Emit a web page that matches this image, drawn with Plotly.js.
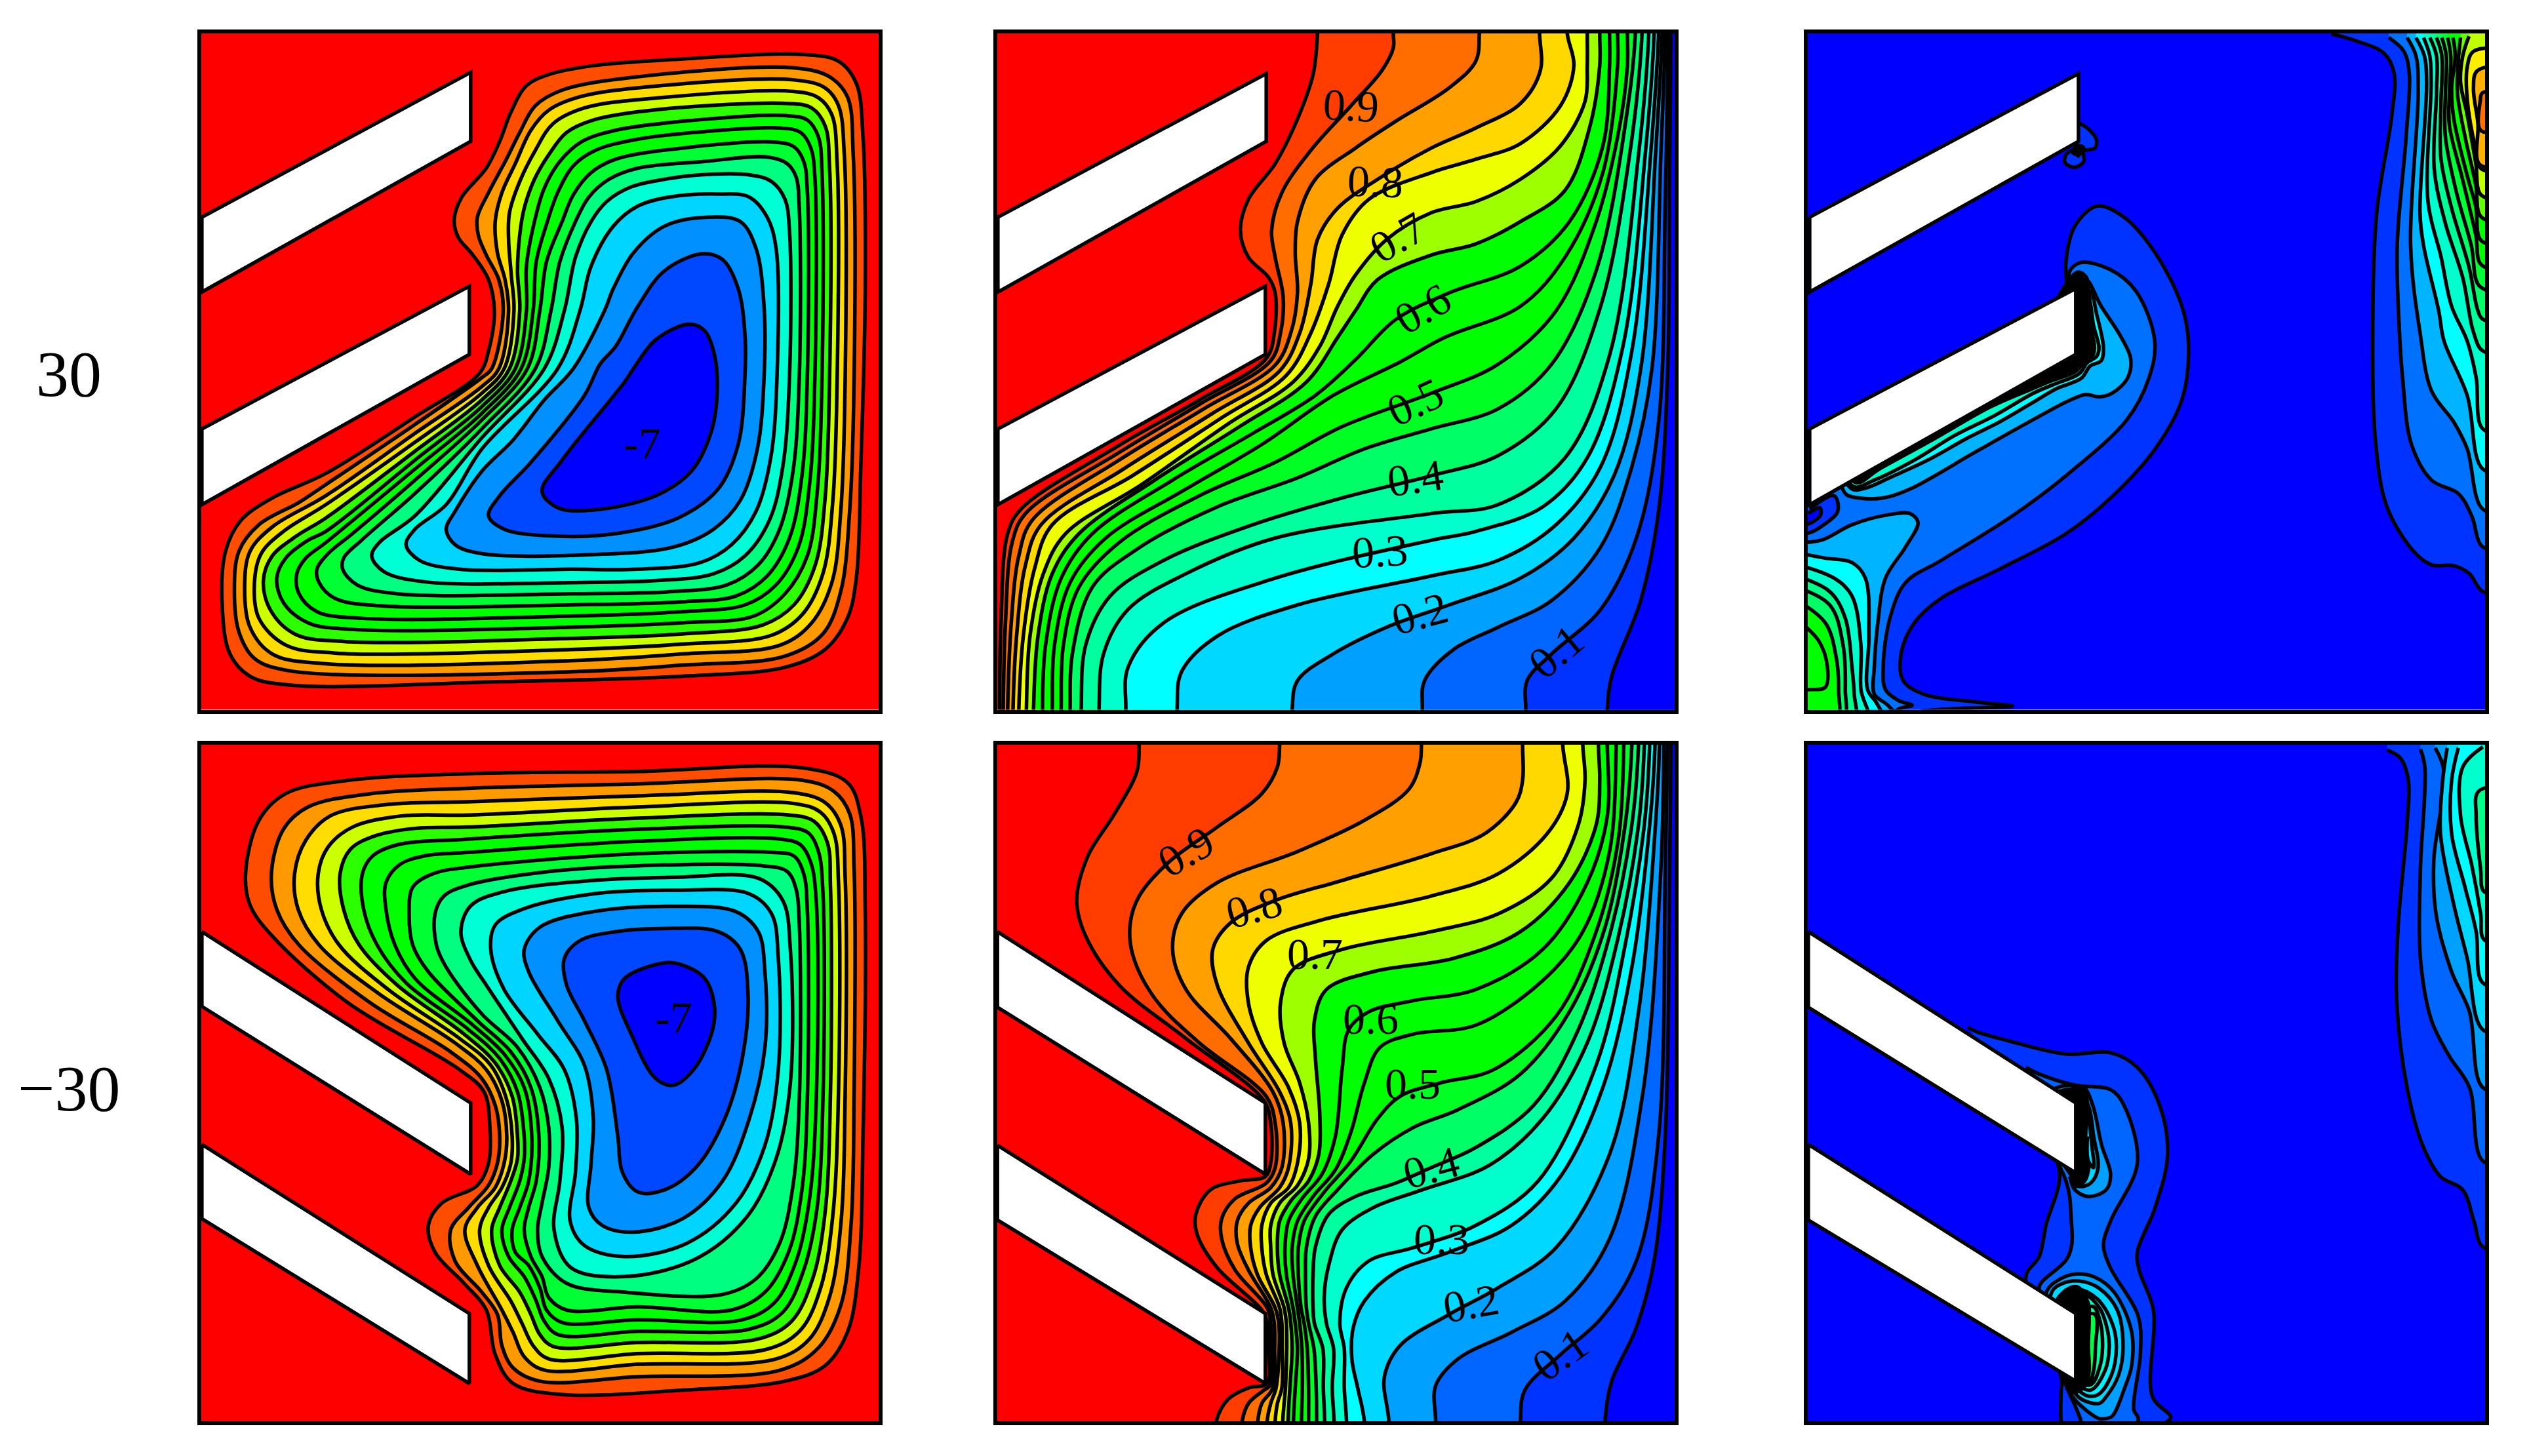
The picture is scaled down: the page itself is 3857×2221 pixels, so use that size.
<!DOCTYPE html>
<html>
<head>
<meta charset="utf-8">
<script src="https://cdn.plot.ly/plotly-3.0.1.min.js"></script>
<style>html,body{margin:0;padding:0;background:#fff}</style>
</head>
<body>
<div id="chart" style="width:3857px;height:2221px"></div>
<script>
// contour lines, one [x, y] list per level, outer level first
// units: pixels of a 1568 px crop of each panel, y pointing down

const streamColors = ['#ff4d00','#ff9900','#ffdd00','#ccff00','#2bff00','#00ff00','#00ff00','#00ff33','#00ff80','#00ffd5','#00d5ff','#0090ff','#0048ff','#0000ff'];
const ratioColors = ['#ff3d00','#ff6d00','#ffa000','#ffd800','#eeff00','#9dff00','#00ff00','#00ff00','#00ff00','#00ff22','#00ff66','#00ff9f','#00ffcc','#00ffff','#00d8ff','#00a0ff','#0066ff','#0033ff','#0000ff'];

const streamUp = [
[[1370,75],[1450,90],[1490,140],[1505,260],[1510,600],[1500,1000],[1490,1250],[1470,1340],[1420,1410],[1330,1450],[1100,1470],[700,1482],[220,1490],[130,1470],[85,1420],[68,1320],[75,1190],[110,1120],[180,1070],[300,1015],[500,888],[645,790],[665,740],[678,650],[665,580],[630,525],[597,485],[588,445],[605,395],[660,330],[690,270],[715,205],[750,145],[800,120],[900,100],[1100,85],[1370,75]],
[[1350,105],[1430,125],[1470,170],[1483,300],[1485,800],[1475,1100],[1455,1280],[1415,1375],[1330,1425],[1100,1445],[850,1460],[220,1458],[140,1430],[105,1370],[95,1280],[105,1190],[150,1130],[240,1080],[300,1040],[500,905],[650,800],[672,780],[698,650],[688,580],[660,525],[642,480],[640,440],[665,385],[705,310],[735,250],[770,190],[830,155],[1000,125],[1350,105]],
[[1350,132],[1420,150],[1450,190],[1463,300],[1465,800],[1455,1100],[1435,1260],[1390,1350],[1320,1400],[1100,1420],[850,1435],[300,1442],[180,1420],[130,1360],[118,1270],[130,1190],[180,1135],[300,1065],[500,925],[650,820],[688,780],[710,650],[702,580],[685,520],[680,450],[695,385],[725,320],[760,245],[800,200],[870,170],[1050,145],[1350,132]],
[[1350,158],[1405,172],[1435,210],[1447,320],[1447,800],[1437,1080],[1415,1240],[1370,1330],[1300,1378],[1100,1398],[850,1410],[320,1418],[210,1400],[150,1340],[140,1260],[155,1195],[205,1145],[300,1085],[500,945],[650,835],[700,780],[722,650],[716,570],[710,490],[712,430],[735,360],[770,290],[810,230],[880,195],[1050,172],[1350,158]],
[[1340,185],[1390,195],[1420,235],[1430,330],[1430,800],[1420,1070],[1398,1220],[1350,1310],[1280,1355],[1100,1375],[850,1385],[340,1392],[230,1375],[175,1320],[160,1255],[180,1200],[235,1155],[300,1115],[500,965],[650,850],[712,780],[735,650],[730,560],[735,480],[745,420],[768,355],[800,300],[840,250],[900,222],[1050,198],[1340,185]],
[[1330,212],[1380,222],[1405,260],[1413,340],[1413,800],[1402,1060],[1380,1200],[1330,1285],[1260,1335],[1100,1350],[850,1360],[360,1365],[260,1350],[205,1305],[190,1250],[210,1205],[260,1165],[300,1145],[500,985],[650,865],[725,780],[750,650],[750,550],[768,450],[790,375],[825,315],[875,270],[950,245],[1100,225],[1330,212]],
[[1320,240],[1365,250],[1388,285],[1397,350],[1397,800],[1385,1040],[1360,1180],[1310,1265],[1240,1310],[1100,1325],[850,1335],[380,1340],[280,1325],[240,1285],[235,1240],[255,1205],[300,1170],[500,1005],[650,880],[738,780],[765,650],[772,540],[797,450],[820,385],[855,325],[905,290],[1000,265],[1150,248],[1320,240]],
[[1310,272],[1350,282],[1372,315],[1380,380],[1380,800],[1368,1020],[1340,1160],[1290,1245],[1220,1290],[1100,1303],[850,1310],[420,1312],[320,1295],[285,1260],[280,1230],[305,1195],[360,1150],[500,1030],[650,895],[752,780],[780,650],[795,540],[830,450],[855,390],[895,340],[950,310],[1100,285],[1310,272]],
[[1290,305],[1335,320],[1355,350],[1362,420],[1362,800],[1348,1010],[1318,1140],[1270,1220],[1200,1265],[1080,1280],[850,1285],[460,1285],[370,1265],[338,1230],[340,1205],[380,1165],[500,1060],[650,915],[770,780],[805,650],[825,540],[860,450],[890,395],[935,355],[1000,330],[1150,315],[1290,305]],
[[1250,345],[1300,360],[1330,400],[1340,470],[1340,800],[1325,1000],[1295,1120],[1240,1200],[1170,1240],[1050,1255],[850,1260],[520,1258],[430,1235],[403,1200],[420,1170],[500,1110],[650,935],[790,780],[835,650],[860,530],[895,450],[930,405],[985,372],[1060,355],[1140,345],[1250,345]],
[[1180,388],[1250,395],[1290,440],[1310,510],[1312,800],[1298,980],[1265,1100],[1210,1175],[1140,1215],[1000,1230],[850,1230],[600,1230],[510,1210],[480,1175],[500,1140],[570,1085],[650,960],[820,780],[870,650],[895,550],[945,460],[1000,415],[1070,395],[1180,388]],
[[1160,440],[1230,450],[1265,510],[1283,640],[1283,800],[1268,960],[1230,1075],[1170,1140],[1080,1180],[900,1197],[650,1195],[590,1175],[570,1140],[590,1100],[650,1010],[720,940],[790,850],[855,780],[925,650],[945,600],[990,520],[1060,460],[1160,440]],
[[1145,522],[1190,535],[1225,600],[1240,700],[1240,800],[1225,950],[1180,1050],[1090,1115],[950,1150],[800,1155],[700,1140],[665,1110],[690,1065],[760,990],[880,840],[915,770],[950,730],[1000,640],[1060,560],[1145,522]],
[[1115,680],[1150,695],[1172,750],[1178,830],[1165,920],[1120,1010],[1040,1065],[900,1097],[820,1092],[785,1055],[830,985],[970,810],[990,780],[1040,715],[1115,680]]
];

const streamDown = [
[[1370,72],[1470,105],[1500,180],[1510,400],[1505,900],[1495,1200],[1470,1340],[1420,1415],[1330,1450],[1100,1470],[830,1480],[720,1455],[680,1390],[660,1290],[610,1230],[545,1160],[530,1100],[560,1050],[640,1010],[665,960],[668,880],[655,800],[600,750],[350,600],[180,450],[130,380],[120,310],[150,190],[210,130],[350,100],[620,85],[1000,80],[1370,72]],
[[1370,100],[1440,125],[1475,175],[1485,300],[1485,800],[1478,1100],[1455,1280],[1405,1375],[1320,1425],[1000,1440],[780,1450],[720,1420],[695,1370],[685,1300],[650,1250],[590,1180],[580,1110],[620,1060],[665,1010],[685,960],[690,900],[680,830],[650,770],[580,710],[400,600],[240,470],[190,390],[178,310],[205,210],[260,160],[400,130],[620,118],[1000,108],[1370,100]],
[[1350,128],[1420,150],[1455,200],[1465,320],[1465,800],[1455,1100],[1430,1260],[1385,1355],[1310,1400],[1000,1412],[790,1425],[745,1395],[720,1340],[695,1290],[640,1190],[612,1110],[640,1060],[680,1015],[700,960],[706,900],[695,820],[660,750],[590,690],[420,580],[285,470],[238,390],[230,310],[255,235],[310,180],[430,155],[620,148],[1000,135],[1350,128]],
[[1350,152],[1410,172],[1440,220],[1450,330],[1450,800],[1437,1080],[1410,1240],[1365,1335],[1290,1378],[1000,1388],[800,1400],[765,1370],[740,1320],[715,1270],[665,1190],[645,1110],[665,1060],[695,1015],[715,960],[718,900],[705,815],[670,740],[600,680],[440,570],[330,470],[290,390],[283,310],[305,250],[360,205],[470,180],[620,178],[1000,160],[1350,152]],
[[1340,178],[1395,192],[1425,240],[1432,340],[1432,800],[1420,1070],[1392,1220],[1345,1315],[1270,1355],[1000,1363],[810,1372],[780,1345],[760,1300],[735,1250],[690,1190],[672,1110],[690,1060],[715,1000],[730,950],[730,900],[718,810],[680,735],[610,670],[460,560],[375,470],[340,390],[332,310],[355,255],[410,225],[500,208],[620,205],[1000,185],[1340,178]],
[[1330,205],[1382,218],[1405,260],[1415,350],[1415,820],[1402,1060],[1372,1200],[1325,1295],[1250,1333],[1000,1338],[820,1345],[790,1315],[770,1265],[745,1215],[710,1170],[695,1110],[712,1060],[735,1000],[745,950],[745,900],[730,800],[690,725],[620,660],[480,555],[415,470],[385,390],[382,310],[405,270],[460,245],[620,232],[1000,210],[1330,205]],
[[1320,232],[1365,245],[1388,285],[1400,370],[1400,820],[1385,1040],[1355,1180],[1305,1275],[1230,1313],[1000,1312],[830,1318],[795,1290],[780,1240],[755,1190],[725,1160],[718,1110],[735,1060],[755,1000],[762,900],[745,790],[700,715],[630,650],[500,545],[455,470],[435,390],[435,330],[465,290],[520,270],[620,262],[1000,237],[1320,232]],
[[1300,262],[1350,270],[1372,310],[1380,390],[1380,820],[1368,1020],[1338,1160],[1285,1250],[1210,1290],[1000,1283],[840,1290],[800,1262],[785,1215],[760,1170],[745,1110],[755,1060],[772,1000],[778,900],[760,790],[715,710],[640,640],[530,530],[495,470],[487,400],[495,340],[540,310],[620,295],[1000,265],[1300,262]],
[[1280,292],[1335,305],[1355,345],[1362,420],[1362,820],[1348,1010],[1318,1140],[1265,1220],[1190,1255],[970,1250],[840,1230],[785,1170],[775,1110],[785,1050],[800,970],[800,880],[780,790],[730,700],[650,625],[570,520],[548,470],[545,400],[565,360],[620,335],[800,305],[1000,292],[1280,292]],
[[1270,320],[1325,370],[1342,480],[1342,780],[1310,950],[1245,1080],[1130,1175],[970,1215],[850,1195],[812,1110],[825,1000],[830,880],[800,770],[740,680],[660,560],[625,505],[603,440],[625,382],[700,350],[900,325],[1080,318],[1270,320]],
[[1250,355],[1300,400],[1315,500],[1315,750],[1285,920],[1220,1050],[1110,1140],[970,1170],[880,1145],[848,1090],[860,980],[862,860],[835,750],[775,670],[700,570],[670,480],[680,425],[740,390],[900,355],[1080,347],[1250,355]],
[[1220,395],[1270,440],[1285,530],[1285,700],[1250,860],[1190,1000],[1100,1085],[990,1115],[920,1100],[890,1060],[895,960],[900,860],[880,740],[820,640],[755,530],[745,480],[780,430],[900,395],[1080,383],[1220,395]],
[[1180,440],[1230,480],[1247,580],[1235,720],[1195,860],[1130,970],[1060,1020],[1000,1025],[965,980],[955,900],[930,750],[880,640],[840,560],[835,500],[870,460],[950,440],[1050,433],[1180,440]],
[[1100,515],[1150,545],[1172,610],[1165,670],[1125,750],[1080,785],[1040,770],[985,670],[955,585],[970,545],[1060,510],[1100,515]]
];

// bottom to top, 0.95 first
const ratioUp = [
[[32,1545],[35,1350],[50,1150],[80,1095],[300,952],[480,850],[630,757],[648,700],[650,610],[635,575],[590,530],[572,470],[590,400],[650,320],[700,220],[735,120],[745,27]],
[[40,1545],[45,1350],[60,1170],[90,1105],[300,968],[480,860],[640,762],[662,700],[668,620],[650,530],[642,470],[665,385],[730,290],[820,190],[890,110],[915,60],[915,27]],
[[50,1545],[58,1350],[75,1200],[105,1120],[300,985],[490,870],[650,772],[685,700],[700,610],[695,520],[700,450],[740,355],[830,285],[920,225],[1040,150],[1100,90],[1108,27]],
[[62,1545],[70,1380],[90,1220],[125,1130],[310,1005],[510,880],[660,785],[705,700],[730,590],[745,490],[790,420],[880,355],[1000,285],[1100,240],[1200,185],[1245,110],[1243,27]],
[[75,1545],[85,1380],[110,1230],[150,1130],[330,1020],[530,890],[675,795],[730,700],[770,590],[800,480],[860,400],[1000,340],[1100,310],[1200,275],[1290,190],[1320,100],[1305,27]],
[[92,1545],[100,1380],[130,1240],[180,1150],[350,1040],[550,900],[690,810],[750,730],[790,640],[830,570],[900,490],[1000,430],[1100,405],[1200,355],[1290,280],[1345,180],[1350,100],[1350,27]],
[[108,1545],[118,1380],[150,1240],[210,1150],[380,1030],[570,910],[720,810],[790,710],[830,650],[880,580],[1000,525],[1100,500],[1200,450],[1300,380],[1355,240],[1378,100],[1378,27]],
[[128,1545],[135,1400],[170,1250],[240,1150],[420,1030],[600,925],[740,840],[830,760],[920,670],[1040,610],[1200,550],[1310,450],[1385,280],[1400,100],[1400,27]],
[[150,1545],[155,1400],[190,1260],[270,1160],[450,1050],[620,950],[780,840],[930,765],[1030,710],[1200,640],[1300,530],[1385,340],[1418,100],[1418,27]],
[[170,1545],[175,1400],[210,1270],[300,1170],[480,1065],[650,990],[800,910],[1000,835],[1150,770],[1280,650],[1370,450],[1420,250],[1440,100],[1440,27]],
[[190,1545],[195,1420],[240,1270],[340,1185],[520,1090],[700,1025],[850,960],[1000,915],[1150,870],[1270,770],[1370,560],[1440,200],[1458,27]],
[[215,1545],[225,1400],[280,1290],[400,1210],[600,1130],[800,1070],[1000,1020],[1150,975],[1280,870],[1380,640],[1445,300],[1473,27]],
[[255,1545],[265,1420],[320,1320],[450,1240],[650,1160],[1000,1105],[1150,1085],[1300,980],[1400,750],[1465,300],[1488,27]],
[[315,1545],[320,1450],[400,1350],[650,1250],[1000,1165],[1100,1145],[1250,1090],[1350,980],[1430,730],[1480,300],[1500,27]],
[[430,1545],[440,1460],[520,1380],[700,1310],[1000,1245],[1150,1210],[1280,1130],[1380,1000],[1450,740],[1492,300],[1510,27]],
[[688,1545],[700,1480],[780,1420],[900,1360],[1040,1310],[1200,1250],[1320,1160],[1410,1020],[1470,780],[1503,300],[1518,27]],
[[980,1545],[985,1480],[1050,1410],[1150,1360],[1270,1300],[1380,1180],[1450,1000],[1495,780],[1515,300],[1525,27]],
[[1212,1545],[1215,1480],[1270,1420],[1380,1320],[1460,1160],[1510,900],[1525,400],[1532,27]],
[[1395,1545],[1405,1470],[1470,1300],[1510,1100],[1530,800],[1535,300],[1538,27]]
];

const ratioDown = [
[[518,1540],[545,1490],[590,1465],[632,1455],[635,1377],[633,1320],[620,1290],[520,1195],[475,1120],[472,1075],[505,1020],[570,1000],[628,990],[640,960],[640,870],[625,820],[450,680],[300,560],[225,450],[205,370],[230,270],[290,175],[340,80],[345,20]],
[[576,1540],[590,1500],[625,1470],[640,1458],[642,1377],[640,1320],[632,1285],[560,1200],[530,1130],[530,1085],[560,1040],[630,1005],[650,970],[650,870],[630,810],[480,690],[380,590],[330,490],[325,420],[345,360],[410,285],[520,205],[620,130],[655,70],[660,20]],
[[611,1540],[620,1500],[645,1465],[649,1377],[648,1320],[640,1285],[590,1200],[565,1140],[565,1090],[590,1050],[640,1015],[665,970],[668,870],[645,800],[550,680],[450,570],[420,480],[440,400],[520,330],[700,260],[850,190],[950,120],[975,60],[978,20]],
[[632,1540],[640,1500],[652,1465],[659,1377],[658,1320],[650,1285],[610,1210],[595,1150],[595,1100],[615,1060],[660,1015],[680,970],[685,870],[660,800],[590,690],[520,560],[510,480],[550,420],[650,370],[800,325],[1000,265],[1120,220],[1190,150],[1205,100],[1205,20]],
[[650,1540],[655,1500],[665,1465],[666,1377],[665,1320],[660,1285],[630,1210],[620,1150],[620,1100],[640,1050],[680,1015],[700,960],[705,870],[680,790],[620,690],[590,600],[590,520],[630,460],[750,415],[1000,360],[1150,310],[1260,220],[1305,130],[1295,20]],
[[667,1540],[670,1500],[673,1465],[676,1377],[675,1320],[670,1285],[645,1210],[640,1150],[640,1100],[660,1050],[700,1010],[725,950],[725,870],[705,780],[670,690],[662,600],[690,525],[800,480],[1000,440],[1150,400],[1270,320],[1330,200],[1345,100],[1340,20]],
[[679,1540],[683,1465],[688,1377],[685,1320],[680,1285],[660,1210],[655,1150],[660,1090],[685,1045],[725,1000],[748,940],[750,850],[740,720],[738,640],[765,570],[870,530],[1050,500],[1200,440],[1310,330],[1370,200],[1378,100],[1375,20]],
[[691,1540],[695,1465],[700,1377],[695,1320],[690,1285],[675,1210],[672,1150],[680,1090],[710,1040],[755,985],[785,900],[800,750],[815,660],[860,620],[960,595],[1100,570],[1250,480],[1350,330],[1395,180],[1395,20]],
[[709,1540],[711,1465],[710,1377],[705,1320],[700,1285],[690,1210],[688,1150],[700,1090],[735,1035],[785,975],[820,890],[850,780],[885,700],[960,670],[1100,650],[1250,550],[1340,440],[1400,260],[1415,20]],
[[725,1540],[725,1465],[722,1377],[715,1320],[708,1285],[702,1210],[702,1150],[715,1090],[760,1025],[820,955],[880,860],[930,810],[1020,780],[1140,750],[1280,630],[1370,440],[1420,230],[1432,20]],
[[743,1540],[742,1465],[737,1377],[725,1320],[720,1285],[718,1210],[720,1150],[740,1080],[790,1020],[870,940],[960,880],[1060,840],[1200,760],[1310,620],[1390,430],[1435,200],[1450,20]],
[[761,1540],[758,1465],[757,1377],[738,1320],[735,1285],[735,1210],[740,1150],[770,1075],[830,1035],[920,1005],[1000,970],[1100,925],[1230,830],[1330,660],[1405,430],[1450,200],[1465,20]],
[[782,1540],[778,1465],[781,1377],[765,1320],[760,1260],[770,1190],[800,1110],[870,1060],[980,1020],[1130,965],[1250,860],[1350,690],[1420,450],[1465,200],[1478,20]],
[[810,1540],[805,1465],[805,1377],[795,1320],[810,1240],[860,1180],[960,1150],[1100,1100],[1240,1000],[1370,740],[1435,470],[1478,200],[1490,20]],
[[850,1540],[835,1465],[822,1400],[825,1330],[850,1270],[920,1205],[1040,1160],[1180,1100],[1290,990],[1385,790],[1450,520],[1490,200],[1502,20]],
[[905,1540],[895,1440],[930,1370],[1040,1300],[1150,1240],[1280,1150],[1400,940],[1465,620],[1503,200],[1512,20]],
[[1010,1540],[1010,1460],[1060,1400],[1180,1340],[1300,1270],[1400,1130],[1475,800],[1515,300],[1522,20]],
[[1200,1540],[1210,1470],[1290,1390],[1380,1310],[1460,1180],[1510,900],[1525,300],[1530,20]],
[[1390,1540],[1405,1450],[1460,1330],[1500,1180],[1525,900],[1535,300],[1538,20]]
];

// right-hand panels: [colour, points]
const stressUp = [
['#0033ff',[[602,640],[602,595],[600,540],[620,460],[670,415],[730,440],[800,520],[860,640],[875,730],[860,850],[800,960],[700,1070],[600,1150],[450,1230],[320,1295],[260,1350],[230,1420],[235,1480],[280,1510],[400,1528],[480,1537],[300,1546],[150,1570],[-30,1600],[-30,1000],[300,850],[500,730]]],
['#0070ff',[[608,620],[608,586],[608,562],[632,542],[698,557],[757,606],[799,718],[786,801],[737,894],[600,1020],[480,1110],[320,1210],[240,1260],[205,1340],[190,1450],[195,1500],[225,1525],[255,1535],[225,1543],[190,1570],[-30,1600],[-30,1000],[300,850],[500,740]]],
['#00b4ff',[[622,640],[645,581],[679,640],[723,708],[745,757],[738,801],[703,835],[674,843],[645,838],[610,850],[527,894],[400,965],[250,1050],[190,1070],[135,1070],[105,1060],[100,1000],[500,770]]],
['#00ffff',[[622,660],[654,606],[669,659],[684,733],[679,762],[654,774],[635,801],[576,826],[527,855],[450,900],[380,935],[290,985],[210,1022],[150,1048],[120,1050],[100,1000],[500,770]]],
['#00ffcc',[[622,670],[650,625],[662,684],[674,733],[669,752],[647,767],[630,791],[571,816],[527,835],[440,885],[350,930],[260,985],[170,1030],[125,1045],[100,1000],[500,770]]],
['#000000',[[500,770],[611,576],[628,563],[645,574],[652,606],[656,684],[664,733],[660,750],[640,765],[622,786],[565,808],[522,826],[430,866],[300,940],[180,1006],[130,1036],[100,1000]]],
['#00ffcc',[[642,640],[648,685],[656,720],[652,700],[644,670]]],
['#0033ff',[[25,1095],[80,1065],[88,1100],[50,1135],[25,1148],[-20,1148],[-20,1095]]],
['#0000ff',[[22,1105],[48,1092],[50,1108],[35,1122],[22,1128],[-20,1128]]],
['#00b4ff',[[-20,1170],[50,1165],[120,1130],[200,1108],[250,1105],[268,1125],[240,1180],[195,1250],[178,1350],[170,1450],[170,1510],[200,1535],[225,1570],[-20,1570]]],
['#00ffff',[[-20,1190],[60,1205],[120,1215],[150,1250],[158,1380],[155,1500],[175,1530],[190,1570],[-20,1570]]],
['#00ffcc',[[-20,1215],[80,1250],[120,1290],[140,1400],[140,1500],[155,1570],[-20,1570]]],
['#00ff88',[[-20,1240],[70,1280],[105,1340],[120,1450],[125,1510],[125,1570],[-20,1570]]],
['#00ff66',[[-20,1265],[70,1310],[100,1400],[105,1500],[100,1570],[-20,1570]]],
['#00ff00',[[-20,1290],[60,1350],[85,1430],[90,1500],[85,1570],[-20,1570]]],
['#00ff00',[[-20,1330],[45,1390],[65,1450],[60,1495],[25,1500],[-20,1500]]],
['#0033ff',[[1195,29],[1250,44],[1314,73],[1336,117],[1331,210],[1297,430],[1288,698],[1295,950],[1320,1090],[1380,1190],[1420,1220],[1470,1222],[1505,1240],[1535,1280],[1600,1280],[1600,-40],[1195,-40]]],
['#0070ff',[[1324,37],[1358,68],[1370,117],[1363,259],[1343,503],[1348,698],[1355,800],[1375,950],[1420,1030],[1480,1060],[1510,1110],[1535,1180],[1600,1180],[1600,-40],[1324,-40]]],
['#00b4ff',[[1365,37],[1385,78],[1390,161],[1373,503],[1394,698],[1420,830],[1470,900],[1500,960],[1535,1095],[1600,1095],[1600,-40],[1365,-40]]],
['#00ffff',[[1385,37],[1404,78],[1409,137],[1394,430],[1402,503],[1436,650],[1448,718],[1500,840],[1535,1005],[1600,1005],[1600,-40],[1385,-40]]],
['#00ffcc',[[1402,37],[1416,78],[1419,137],[1412,405],[1441,528],[1465,640],[1500,718],[1520,800],[1535,915],[1600,915],[1600,-40],[1402,-40]]],
['#00ff99',[[1416,37],[1431,78],[1431,161],[1426,332],[1451,454],[1490,576],[1514,698],[1535,740],[1600,740],[1600,-40],[1416,-40]]],
['#00ff66',[[1431,37],[1443,78],[1441,186],[1441,308],[1465,420],[1504,552],[1524,650],[1535,669],[1600,669],[1600,-40],[1431,-40]]],
['#00ff33',[[1443,37],[1453,78],[1451,161],[1451,259],[1475,381],[1509,503],[1529,596],[1600,596],[1600,-40],[1443,-40]]],
['#00ff00',[[1456,37],[1463,78],[1460,161],[1460,234],[1490,357],[1519,479],[1532,547],[1600,547],[1600,-40],[1456,-40]]],
['#00ff00',[[1468,37],[1473,78],[1465,151],[1470,220],[1500,347],[1519,415],[1532,493],[1600,493],[1600,-40],[1468,-40]]],
['#66ff00',[[1485,37],[1480,88],[1478,161],[1495,259],[1519,366],[1532,440],[1600,440],[1600,-40],[1485,-40]]],
['#bfff00',[[1504,34],[1490,78],[1485,137],[1500,210],[1519,317],[1532,391],[1600,391],[1600,-40],[1504,-40]]],
['#ffee00',[[1600,61],[1514,68],[1500,103],[1500,176],[1519,288],[1532,332],[1600,332]]],
['#ffb000',[[1600,98],[1522,112],[1514,151],[1524,230],[1528,322],[1600,322]]],
['#ff7000',[[1600,161],[1534,161],[1529,180],[1530,245],[1600,245]]],
['#0033ff',[[628,228],[650,242],[668,265],[665,285],[640,292],[640,315],[620,328],[598,318],[600,300],[620,285],[625,270]]],
['#000000',[[615,300],[630,280],[640,285],[625,305]]]
];

const stressDown = [
['#0033ff',[[380,655],[400,665],[470,685],[600,715],[700,712],[760,745],[810,830],[828,940],[800,1060],[760,1160],[764,1200],[796,1290],[794,1485],[835,1531],[821,1545],[720,1580],[601,1570],[589,1475],[591,1451],[560,1350],[510,1215],[540,1170],[555,1100],[585,975],[500,830]]],
['#0066ff',[[510,745],[540,760],[620,785],[700,795],[730,830],[760,960],[700,1090],[684,1143],[698,1192],[762,1304],[767,1387],[752,1514],[762,1534],[740,1580],[640,1570],[632,1534],[601,1461],[560,1350],[540,1238],[547,1226],[601,1177],[613,1143],[612,1090],[600,1000],[500,830]]],
['#00a0ff',[[560,1350],[557,1248],[586,1221],[625,1209],[664,1216],[708,1250],[747,1338],[747,1416],[733,1461],[703,1529],[686,1534],[674,1534],[615,1485],[600,1440]]],
['#00d8ff',[[560,1350],[569,1248],[591,1231],[630,1225],[674,1241],[715,1290],[728,1373],[718,1436],[690,1485],[674,1500],[630,1487],[600,1440]]],
['#00f0ff',[[560,1350],[586,1258],[625,1243],[670,1265],[705,1324],[713,1373],[702,1436],[672,1480],[645,1482],[600,1440]]],
['#00ffcc',[[560,1350],[637,1255],[675,1285],[693,1335],[697,1373],[688,1425],[655,1470],[600,1440]]],
['#00ff99',[[560,1350],[660,1282],[675,1310],[682,1373],[675,1420],[655,1458],[600,1440]]],
['#00ff44',[[560,1350],[664,1299],[666,1373],[662,1425],[652,1452],[600,1440]]],
['#000000',[[560,1350],[592,1252],[625,1238],[650,1275],[652,1310],[650,1373],[652,1425],[645,1458],[620,1475],[600,1465]]],
['#00a0ff',[[500,830],[580,790],[610,785],[640,790],[660,830],[680,920],[700,985],[690,1020],[650,1035],[620,1020],[610,995]]],
['#00d8ff',[[500,830],[625,795],[650,830],[662,900],[672,970],[655,1005],[628,1012],[610,990]]],
['#000000',[[500,830],[602,800],[625,788],[645,810],[645,900],[652,960],[642,1000],[622,1012],[608,990]]],
['#00d8ff',[[650,850],[658,920],[662,970],[650,955],[648,900]]],
['#0033ff',[[1320,32],[1350,50],[1368,100],[1365,200],[1345,430],[1342,600],[1365,790],[1400,920],[1440,990],[1490,1020],[1515,1090],[1535,1148],[1600,1148],[1600,-40],[1320,-40]]],
['#0066ff',[[1395,30],[1405,70],[1395,300],[1395,500],[1420,640],[1460,720],[1505,790],[1535,955],[1600,955],[1600,-40],[1395,-40]]],
['#00a0ff',[[1428,27],[1448,80],[1425,280],[1430,400],[1465,530],[1505,620],[1535,790],[1600,790],[1600,-40],[1428,-40]]],
['#00d8ff',[[1455,27],[1445,100],[1440,220],[1470,380],[1500,500],[1535,660],[1600,660],[1600,-40],[1455,-40]]],
['#00ffff',[[1480,27],[1465,100],[1465,220],[1495,340],[1520,440],[1535,555],[1600,555],[1600,-40],[1480,-40]]],
['#00ffcc',[[1535,25],[1490,70],[1485,180],[1510,290],[1530,400],[1538,458],[1600,458],[1600,-40],[1535,-40]]],
['#00ff88',[[1600,110],[1525,125],[1520,180],[1530,300],[1538,350],[1600,350]]]
];

const slatsUp1 = [[[22,440],[625,115],[625,270],[22,608]],[[22,915],[622,595],[622,748],[22,1085]]];
const slatsUp2 = [[[28,440],[630,118],[630,270],[28,608]],[[28,915],[628,595],[628,748],[28,1085]]];
const slatsUp3 = [[[25,440],[628,118],[628,270],[25,608]],[[25,915],[622,600],[622,748],[25,1085]]];
const slatsDown1 = [[[22,440],[625,825],[625,985],[22,608]],[[22,918],[622,1298],[622,1455],[22,1085]]];
const slatsDown2 = [[[27,440],[628,825],[628,985],[27,610]],[[27,920],[628,1298],[628,1455],[27,1088]]];
const slatsDown3 = [[[22,440],[622,825],[622,982],[22,610]],[[22,918],[622,1298],[622,1450],[22,1088]]];

const levelTexts = ['0.9','0.8','0.7','0.6','0.5','0.4','0.3','0.2','0.1'];
const levelXUp = [820,875,925,980,965,965,885,975,1280];
const levelYUp = [190,360,485,645,855,1025,1190,1330,1415];
const levelAngleUp = [3,2,-30,-30,-25,-8,-3,-15,-40];
const levelXDown = [450,603,740,865,958,1000,1023,1090,1290];
const levelYDown = [260,385,490,635,782,970,1130,1275,1390];
const levelAngleDown = [-30,-15,0,0,0,-15,0,-10,-35];
const rowLabels = ['30','\u221230'];
const rowLabelY = [571,1660];

// plot areas in page pixels, inner edge of the frames
const colLeft = [306.5,1520.5,2756.5], colRight = [1340,2554,3790];
const rowTop = [50.5,1136], rowBottom = [1082.5,2168];
// crop coordinates of the frames
const frameX = [[20,1540],[26,1546],[20,1540]];
const frameY = [[27,1545],[20,1540]];
const W = 3857, H = 2221;

const traces = [];
const layout = {
  width: W, height: H, margin: {l: 0, r: 0, t: 0, b: 0}, showlegend: false,
  paper_bgcolor: '#fff', plot_bgcolor: '#fff', annotations: [], font: {family: 'Liberation Serif, serif', color: '#000'}
};

function axisName(r, c) { const n = r * 3 + c + 1; return n === 1 ? '' : String(n); }

function poly(r, c, pts, fill, shape) {
  const a = axisName(r, c);
  traces.push({
    x: pts.map(p => p[0]), y: pts.map(p => p[1]), xaxis: 'x' + a, yaxis: 'y' + a,
    mode: 'lines', fill: 'toself', fillcolor: fill, hoverinfo: 'skip',
    line: {color: '#000', width: 5.5, shape: shape || 'spline', smoothing: 1, simplify: false}
  });
}

for (let r = 0; r < 2; r++) for (let c = 0; c < 3; c++) {
  const a = axisName(r, c);
  const ax = {
    showline: true, mirror: true, linewidth: 6, linecolor: '#000', ticks: '', showticklabels: false,
    showgrid: false, zeroline: false, fixedrange: true
  };
  layout['xaxis' + a] = Object.assign({}, ax, {range: frameX[c], domain: [colLeft[c] / W, colRight[c] / W], anchor: 'y' + a});
  layout['yaxis' + a] = Object.assign({}, ax, {range: [frameY[r][1], frameY[r][0]], domain: [1 - rowBottom[r] / H, 1 - rowTop[r] / H], anchor: 'x' + a});
}

const box = [[-60, -60], [1620, -60], [1620, 1620], [-60, 1620]];
// background of every panel
[[0,0,'#ff0000'],[0,1,'#ff0000'],[0,2,'#0000ff'],[1,0,'#ff0000'],[1,1,'#ff0000'],[1,2,'#0000ff']].forEach(b => {
  const a = axisName(b[0], b[1]);
  traces.push({x: box.map(p => p[0]), y: box.map(p => p[1]), xaxis: 'x' + a, yaxis: 'y' + a, mode: 'lines', fill: 'toself', fillcolor: b[2], line: {width: 0}, hoverinfo: 'skip'});
});

streamUp.forEach((pts, i) => poly(0, 0, pts, streamColors[i]));
streamDown.forEach((pts, i) => poly(1, 0, pts, streamColors[i]));

function ratioPoly(r, pts, i) {
  const x0 = pts[0][0], xt = pts[pts.length - 1][0];
  const closed = [[x0, 1680]].concat(pts, [[xt, -80], [1700, -80], [1700, 1680]]);
  poly(r, 1, closed, ratioColors[i]);
}
ratioUp.forEach((pts, i) => ratioPoly(0, pts, i));
ratioDown.forEach((pts, i) => ratioPoly(1, pts, i));

stressUp.forEach(s => poly(0, 2, s[1], s[0]));
stressDown.forEach(s => poly(1, 2, s[1], s[0]));

[slatsUp1, slatsUp2, slatsUp3].forEach((sl, c) => sl.forEach(p => poly(0, c, p.concat([p[0]]), '#ffffff', 'linear')));
[slatsDown1, slatsDown2, slatsDown3].forEach((sl, c) => sl.forEach(p => poly(1, c, p.concat([p[0]]), '#ffffff', 'linear')));

function addLabel(r, c, x, y, text, angle) {
  const a = axisName(r, c);
  layout.annotations.push({xref: 'x' + a, yref: 'y' + a, x: x, y: y, text: text, textangle: angle, showarrow: false, xanchor: 'center', yanchor: 'middle', font: {size: 68, color: '#000', family: 'Liberation Serif, serif'}});
}
levelTexts.forEach((t, i) => {
  addLabel(0, 1, levelXUp[i], levelYUp[i], t, levelAngleUp[i]);
  addLabel(1, 1, levelXDown[i], levelYDown[i], t, levelAngleDown[i]);
});
addLabel(0, 0, 1010, 947, '-7', 0);
addLabel(1, 0, 1080, 632, '-7', 0);

rowLabels.forEach((t, i) => layout.annotations.push({
  xref: 'paper', yref: 'paper', x: 105 / W, y: 1 - rowLabelY[i] / H, text: t, showarrow: false, xanchor: 'center', yanchor: 'middle',
  font: {size: 100, color: '#000', family: 'Liberation Serif, serif'}
}));

Plotly.newPlot('chart', traces, layout, {staticPlot: true, displayModeBar: false});
</script>
</body>
</html>
